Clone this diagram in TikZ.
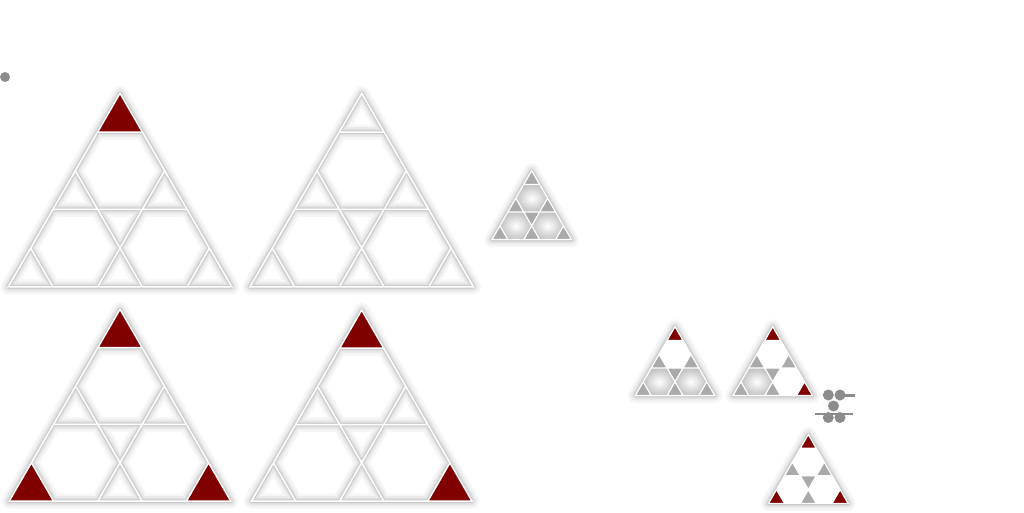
\documentclass[tikz,border=0pt]{standalone}
\usetikzlibrary{calc}
\definecolor{garnet}{RGB}{128,0,0}
\definecolor{ash}{RGB}{170,170,170}
\definecolor{dotgrey}{RGB}{140,140,140}
% lattice pieces of one tile, apex at (0,0), five rows down
\newcommand{\tripath}{(0,0) -- (-1.5,3) -- (1.5,3) -- cycle (-1,2) -- (-2.5,5) -- (0.5,5) -- cycle (1,2) -- (-0.5,5) -- (2.5,5) -- cycle (-0.5,1) -- (0.5,1) (-2,4) -- (-1.5,5) (2,4) -- (1.5,5)}
\newcommand{\rim}{(0,0) -- (-2.5,5) -- (2.5,5) -- cycle}
\newcommand{\ctop}{(0,0) -- (-0.5,1) -- (0.5,1) -- cycle}
\newcommand{\cml}{(-1,2) -- (-1.5,3) -- (-0.5,3) -- cycle}
\newcommand{\cmr}{(1,2) -- (0.5,3) -- (1.5,3) -- cycle}
\newcommand{\cbl}{(-2,4) -- (-2.5,5) -- (-1.5,5) -- cycle}
\newcommand{\cbc}{(0,4) -- (-0.5,5) -- (0.5,5) -- cycle}
\newcommand{\cbr}{(2,4) -- (1.5,5) -- (2.5,5) -- cycle}
\newcommand{\cmid}{(-0.5,3) -- (0.5,3) -- (0,4) -- cycle}
\newcommand{\htop}{(-0.5,1) -- (0.5,1) -- (1,2) -- (0.5,3) -- (-0.5,3) -- (-1,2) -- cycle}
\newcommand{\hleft}{(-1.5,3) -- (-0.5,3) -- (0,4) -- (-0.5,5) -- (-1.5,5) -- (-2,4) -- cycle}
\newcommand{\hright}{(0.5,3) -- (1.5,3) -- (2,4) -- (1.5,5) -- (0.5,5) -- (0,4) -- cycle}

\begin{document}
\begin{tikzpicture}[x=1pt,y=-1pt,
  halo/.style={draw=black,draw opacity=.035,line width=15pt,line join=round,postaction={draw=black,draw opacity=.045,line width=10pt,line join=round},postaction={draw=black,draw opacity=.06,line width=6pt,line join=round},postaction={draw=black,draw opacity=.08,line width=3.5pt,line join=round}},
  seam/.style={draw=white,line width=1.5pt},
  thinseam/.style={draw=white,line width=1.2pt},
  bulb/.style={inner color=white,outer color=black!24},
  big/.style={x=44.7pt,y=-38.7pt},
  small/.style={x=15.9pt,y=-13.77pt}]
  \useasboundingbox (0,0) rectangle (1024,512);
  \fill[dotgrey] (5,77) circle[radius=5pt];

  % big tiles, top row
  \begin{scope}[shift={(120,93.3)},big]
    \draw[halo] \tripath;
    \fill[garnet] \ctop;
    \draw[seam] \tripath;
  \end{scope}
  \begin{scope}[shift={(361.7,93.3)},big]
    \draw[halo] \tripath;
    \draw[seam] \tripath;
  \end{scope}

  % big tiles, bottom row
  \begin{scope}[shift={(120,309.3)},x=44.3pt,y=-38.35pt]
    \draw[halo] \tripath;
    \fill[garnet] \ctop \cbl \cbr;
    \draw[seam] \tripath;
  \end{scope}
  \begin{scope}[shift={(361.7,310)},x=44.1pt,y=-38.2pt]
    \draw[halo] \tripath;
    \fill[garnet] \ctop \cbr;
    \draw[seam] \tripath;
  \end{scope}

  % small tiles
  \begin{scope}[shift={(531.7,170.7)},small]
    \draw[halo] \rim;
    \fill[ash] \ctop \cml \cmr \cbl \cbc \cbr \cmid;
    \shade[bulb] \htop; \shade[bulb] \hleft; \shade[bulb] \hright;
    \draw[thinseam] \tripath;
  \end{scope}
  \begin{scope}[shift={(675,326.7)},small]
    \draw[halo] \rim;
    \fill[ash] \cml \cmr \cbl \cbc \cbr \cmid;
    \fill[garnet] \ctop;
    \fill[white] \htop;
    \shade[bulb] \hleft; \shade[bulb] \hright;
    \draw[thinseam] \tripath;
  \end{scope}
  \begin{scope}[shift={(772.7,326.7)},small]
    \draw[halo] \rim;
    \fill[ash] \cml \cmr \cbl \cbc \cmid;
    \fill[garnet] \ctop \cbr;
    \fill[white] \htop \hright;
    \shade[bulb] \hleft;
    \draw[thinseam] \tripath;
  \end{scope}
  \begin{scope}[shift={(808.3,434.5)},small]
    \draw[halo] \rim;
    \fill[ash] \cml \cmr \cbc \cmid;
    \fill[garnet] \ctop \cbl \cbr;
    \fill[white] \htop \hleft \hright;
    \draw[thinseam] \tripath;
  \end{scope}

  % little grey mark
  \draw[dotgrey,line width=3pt] (840,395) -- (855,395);
  \draw[dotgrey,line width=2.5pt] (815,414) -- (853,414);
  \fill[dotgrey] (828.3,395) circle[radius=5.5pt] (840,395) circle[radius=5.5pt] (833.5,406) circle[radius=5.5pt] (828.3,417.5) circle[radius=5.5pt] (840,417.5) circle[radius=5.5pt];
\end{tikzpicture}
\end{document}
